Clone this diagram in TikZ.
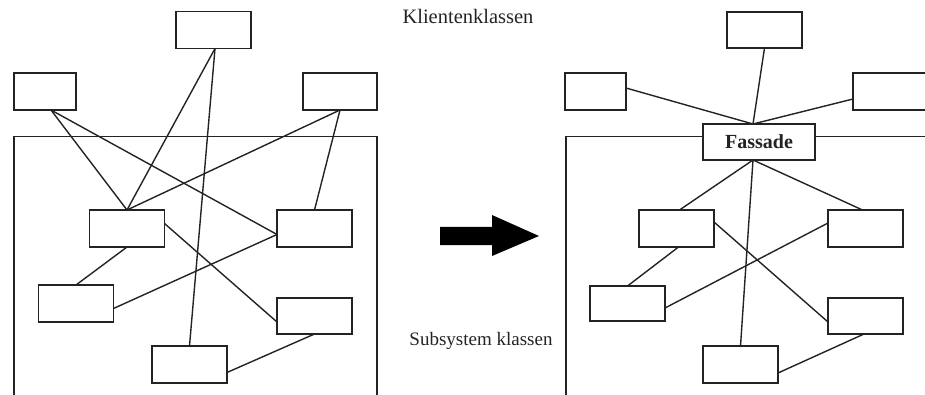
\documentclass[tikz,border=0pt]{standalone}
\usepackage{fontspec}
\setmainfont{Liberation Serif}
\usetikzlibrary{calc}
\definecolor{ink}{RGB}{35,35,35}
\begin{document}
\begin{tikzpicture}[x=1pt,y=-1pt,
  box/.style={draw=ink,line width=1.5pt,fill=white,minimum width=75pt,minimum height=37pt,inner sep=0pt,outer sep=0pt},
  link/.style={draw=ink,line width=1.4pt},
  frame/.style={draw=ink,line width=1.5pt},
  lbl/.style={font=\fontsize{19}{20}\selectfont,text=ink,inner sep=0pt}]
\useasboundingbox (0,0) rectangle (925,395);
\clip (0,0) rectangle (925,395);
% frames
\draw[frame] (14,400) -- (14,136.5) -- (377,136.5) -- (377,400);
\draw[frame] (566,400) -- (566,136.5) -- (935,136.5);
% left side nodes
\node[box] (T1) at (213.5,30) {};
\node[box,minimum width=62pt] (L1) at (45,91.5) {};
\node[box,minimum width=74pt] (R1) at (340,91.5) {};
\node[box] (A1) at (127,228.5) {};
\node[box] (B1) at (314.5,228.5) {};
\node[box] (C1) at (76,303.5) {};
\node[box,minimum height=36pt] (D1) at (314.5,316) {};
\node[box] (E1) at (189.5,364.5) {};
% right side nodes
\node[box,minimum height=36pt] (T2) at (764.5,30) {};
\node[box,minimum width=61pt] (L2) at (595.5,91.5) {};
\node[box] (R2) at (890.5,91.5) {};
\node[box,minimum width=112pt,minimum height=36pt,font=\bfseries\fontsize{20}{21}\selectfont,text=ink] (F) at (759,142) {Fassade};
\node[box] (A2) at (676.5,228.5) {};
\node[box] (B2) at (865.5,228.5) {};
\node[box,minimum height=35pt] (C2) at (627.5,303.5) {};
\node[box,minimum height=36pt] (D2) at (865.5,316) {};
\node[box] (E2) at (740.5,364.5) {};
% labels
\node[lbl,font=\fontsize{20.5}{21}\selectfont,anchor=base] (kl) at (468,24) {Klientenklassen};
\node[lbl,anchor=base] (sk) at (481,345) {Subsystem klassen};
% left connectors
\draw[link] ([xshift=6pt]L1.south) -- (A1.north);
\draw[link] ([xshift=6pt]L1.south) -- ([yshift=-6pt]B1.west);
\draw[link] ([xshift=1.5pt]T1.south) -- (A1.north);
\draw[link] ([xshift=1.5pt]T1.south) -- (E1.north);
\draw[link] (R1.south) -- (A1.north);
\draw[link] (R1.south) -- (B1.north);
\draw[link] ([yshift=5pt]A1.east) -- ([yshift=-6pt]D1.west);
\draw[link] (A1.south) -- (C1.north);
\draw[link] ([yshift=-5pt]C1.east) -- ([yshift=-6pt]B1.west);
\draw[link] ([yshift=-8pt]E1.east) -- (D1.south);
% right connectors
\coordinate (fa) at ([xshift=-6pt]F.north);
\coordinate (fb) at ([xshift=-6pt]F.south);
\draw[link] (T2.south) -- (fa);
\draw[link] ([yshift=3.5pt]L2.east) -- (fa);
\draw[link] ([yshift=-7.5pt]R2.west) -- (fa);
\draw[link] (fb) -- ([xshift=3pt]A2.north);
\draw[link] (fb) -- (E2.north);
\draw[link] (fb) -- ([xshift=-3pt]B2.north);
\draw[link] ([yshift=6.5pt]A2.east) -- ([yshift=-6pt]D2.west);
\draw[link] ([xshift=2pt]A2.south) -- (C2.north);
\draw[link] ([yshift=-4.5pt]C2.east) -- ([yshift=5.5pt]B2.west);
\draw[link] ([yshift=-8.5pt]E2.east) -- ([xshift=-1.5pt]D2.south);
% big arrow
\fill[black] (440,227) -- (492,227) -- (492,215) -- (539,236) -- (492,256) -- (492,245) -- (440,245) -- cycle;
\end{tikzpicture}
\end{document}
